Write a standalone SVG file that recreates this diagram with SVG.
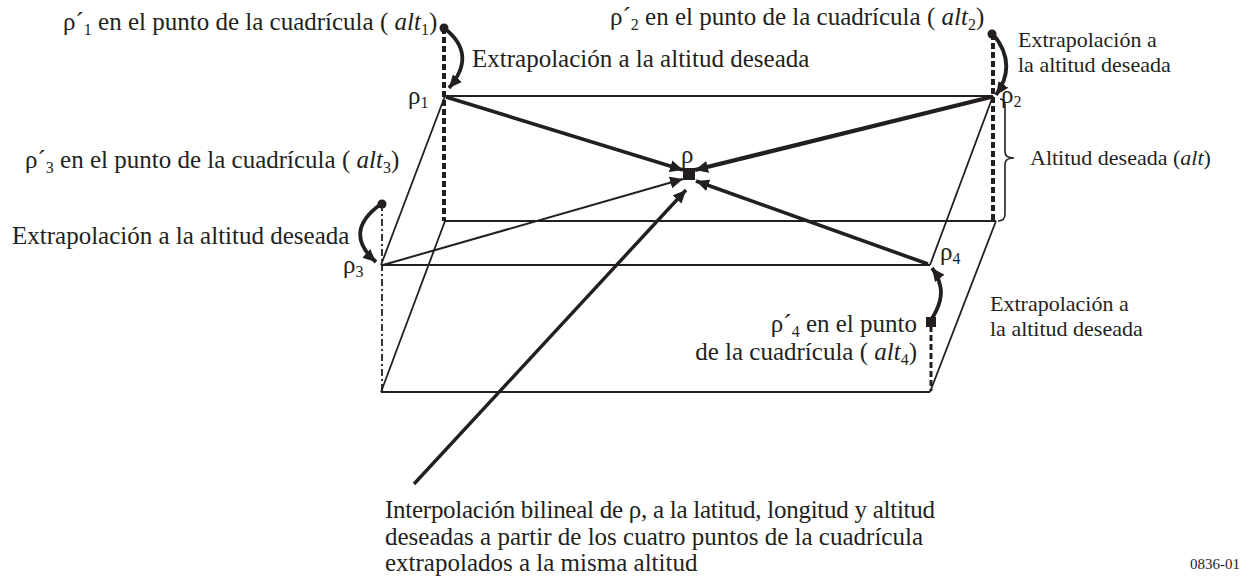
<svg xmlns="http://www.w3.org/2000/svg" width="1241" height="577" viewBox="0 0 1241 577">
<style>
.sm{font-size:16px}
.it{font-style:italic}
.s22{font-size:22px}
.box{stroke:#231f20;stroke-width:1.8;fill:none}
.thick{stroke:#231f20;stroke-width:3.6;fill:none}
.thin{stroke:#231f20;stroke-width:2;fill:none}
.vdash{stroke:#231f20;stroke-width:4;stroke-dasharray:6 3;fill:none}
.vdash2{stroke:#231f20;stroke-width:1.8;stroke-dasharray:7 3 2 3;fill:none}
.curve{stroke:#231f20;stroke-width:3.8;fill:none}
</style>
<defs>
<marker id="ah" markerUnits="userSpaceOnUse" markerWidth="14" markerHeight="12" refX="13" refY="6" orient="auto"><path d="M0,0 L13,6 L0,12 z" fill="#231f20"/></marker>
</defs>
<g id="frame">
<line class="box" x1="444" y1="96" x2="993" y2="96"/>
<line class="box" x1="444" y1="221" x2="996" y2="221"/>
<line class="box" x1="381" y1="265" x2="930" y2="265"/>
<line class="box" x1="381" y1="392" x2="930" y2="392"/>
<line class="box" x1="381" y1="265" x2="445" y2="96"/>
<line class="box" x1="381" y1="392" x2="445" y2="221"/>
<line class="box" x1="930" y1="265" x2="993" y2="96"/>
<line class="box" x1="930" y1="392" x2="996" y2="221"/>
<line class="vdash" x1="444" y1="28" x2="444" y2="221"/>
<line class="vdash" x1="993" y1="34" x2="993" y2="221"/>
<line class="vdash2" x1="382" y1="204" x2="382" y2="392"/>
<line class="vdash" x1="931" y1="326" x2="931" y2="391" style="stroke-width:3"/>
<path d="M1000,99 Q1005,99 1005,106 L1005,152 Q1005,158 1014,158 Q1005,158 1005,164 L1005,214 Q1005,221 998,221" fill="none" stroke="#231f20" stroke-width="1.6"/>
</g>
<g id="connectors">
<line class="thick" x1="446" y1="97" x2="683" y2="170" marker-end="url(#ah)"/>
<line class="thick" x1="991" y1="97" x2="695" y2="170" marker-end="url(#ah)" style="stroke-width:4.2"/>
<line class="thin" x1="383" y1="265" x2="683" y2="179" marker-end="url(#ah)"/>
<line class="thick" x1="928" y1="264" x2="696" y2="181" marker-end="url(#ah)"/>
<line class="thick" x1="414" y1="484" x2="686" y2="190" marker-end="url(#ah)" style="stroke-width:3.4"/>
<path class="curve" d="M444,28 Q478,54 449,88" marker-end="url(#ah)"/>
<path class="curve" d="M993,34 Q1018,64 996,95" marker-end="url(#ah)"/>
<path class="curve" d="M381,204 Q342,232 376,262" marker-end="url(#ah)"/>
<path class="curve" d="M931,320 Q944,300 940,285 Q938,276 932,268" marker-end="url(#ah)"/>
</g>
<g id="points">
<circle cx="444" cy="28" r="4.5" fill="#231f20"/>
<circle cx="992" cy="34" r="4.5" fill="#231f20"/>
<circle cx="382" cy="204" r="4.5" fill="#231f20"/>
<rect x="926" y="317" width="10" height="10" fill="#231f20"/>
</g>
<g id="center">
<rect x="683" y="168" width="12" height="12" fill="#231f20"/>
<text x="681" y="163" font-family="Liberation Serif" font-size="25" fill="#231f20">ρ</text>
</g>
<g id="labels" font-family="Liberation Serif" font-size="25" fill="#231f20">
<text x="63" y="30">ρ´<tspan class="sm" dy="5">1</tspan><tspan dy="-5"> en el punto de la cuadrícula ( </tspan><tspan class="it">alt</tspan><tspan class="sm" dy="5">1</tspan><tspan dy="-5">)</tspan></text>
<text x="472" y="67">Extrapolación a la altitud deseada</text>
<text x="408" y="104">ρ<tspan class="sm" dy="4">1</tspan></text>
<text x="610" y="25">ρ´<tspan class="sm" dy="5">2</tspan><tspan dy="-5"> en el punto de la cuadrícula ( </tspan><tspan class="it">alt</tspan><tspan class="sm" dy="5">2</tspan><tspan dy="-5">)</tspan></text>
<text class="s22" x="1018" y="47">Extrapolación a</text>
<text class="s22" x="1018" y="72">la altitud deseada</text>
<text x="1001" y="103">ρ<tspan class="sm" dy="4">2</tspan></text>
<text class="s22" x="1030" y="165">Altitud deseada (<tspan class="it">alt</tspan>)</text>
<text x="25" y="168">ρ´<tspan class="sm" dy="5">3</tspan><tspan dy="-5"> en el punto de la cuadrícula ( </tspan><tspan class="it">alt</tspan><tspan class="sm" dy="5">3</tspan><tspan dy="-5">)</tspan></text>
<text x="12" y="244">Extrapolación a la altitud deseada</text>
<text x="343" y="273">ρ<tspan class="sm" dy="4">3</tspan></text>
<text x="940" y="260">ρ<tspan class="sm" dy="4">4</tspan></text>
<text class="s22" x="990" y="311">Extrapolación a</text>
<text class="s22" x="990" y="336">la altitud deseada</text>
<text x="917" y="332" text-anchor="end">ρ´<tspan class="sm" dy="5">4</tspan><tspan dy="-5"> en el punto</tspan></text>
<text x="917" y="360" text-anchor="end">de la cuadrícula ( <tspan class="it">alt</tspan><tspan class="sm" dy="5">4</tspan><tspan dy="-5">)</tspan></text>
<text x="385" y="518" textLength="550" lengthAdjust="spacing">Interpolación bilineal de  ρ, a la latitud, longitud y altitud</text>
<text x="385" y="545">deseadas a partir de los cuatro puntos de la cuadrícula</text>
<text x="385" y="571">extrapolados a la misma altitud</text>
<text x="1190" y="569" font-size="15">0836-01</text>
</g>
</svg>
